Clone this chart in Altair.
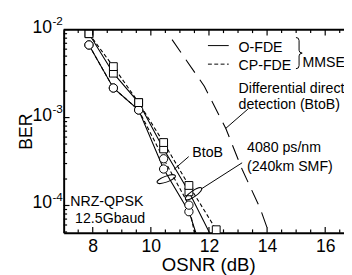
import altair as alt
import pandas as pd

FONT = "Liberation Sans"

# ---------------- data ----------------
osnr = [7.87, 8.71, 9.58, 10.44, 11.31]
ofde_btob = [6.7e-3, 2.17e-3, 1.22e-3, 2.6e-4, 8.5e-5]
cpfde_btob = [6.7e-3, 2.17e-3, 1.22e-3, 3.4e-4, 1.01e-4]
ofde_4080 = [9.0e-3, 3.2e-3, 1.48e-3, 4.4e-4, 1.43e-4]
cpfde_4080 = [9.0e-3, 3.8e-3, 1.48e-3, 5.2e-4, 1.69e-4]
# last points, at / below the bottom of the frame
ofde_btob_tail = (11.9, 2.2e-5)
cpfde_btob_tail = (11.6, 3.3e-5)
ofde_4080_tail = (12.4, 2.75e-5)
cpfde_4080_tail = (12.25, 5.3e-5)

ddd_osnr = [10.73, 11.84, 12.58, 13.14, 13.76, 14.1]
ddd_ber = [7.7e-3, 2.27e-3, 7.5e-4, 2.58e-4, 9.3e-5, 4.5e-5]

x_major = [8, 10, 12, 14, 16]
x_minor = [7.5, 8.5, 9, 9.5, 10.5, 11, 11.5, 12.5, 13, 13.5, 14.5, 15, 15.5, 16.5]
y_decades = [1e-2, 1e-3, 1e-4]
y_exponents = ["-2", "-3", "-4"]
y_minor = [9e-3, 8e-3, 7e-3, 6e-3, 5e-3, 4e-3, 3e-3, 2e-3,
           9e-4, 8e-4, 7e-4, 6e-4, 5e-4, 4e-4, 3e-4, 2e-4,
           9e-5, 8e-5, 7e-5, 6e-5, 5e-5]

X_DOMAIN = [7, 16.647]
Y_DOMAIN = [4.887e-5, 1e-2]
W, H = 287, 208

xscale = alt.Scale(domain=X_DOMAIN, nice=False, zero=False)
yscale = alt.Scale(type="log", domain=Y_DOMAIN, nice=False)

x_axis = alt.Axis(values=x_major, format="d", labelFont=FONT, labelFontSize=18,
                  labelColor="black", labelPadding=5, ticks=False, grid=False,
                  domainColor="black", domainWidth=2, labelFlush=False,
                  title="OSNR (dB)", titleFont=FONT, titleFontSize=19,
                  titleFontWeight="normal", titleColor="black", titleX=148,
                  titleY=39, titleAlign="center", titleBaseline="alphabetic")
y_axis = alt.Axis(labels=False, ticks=False, grid=False, domainColor="black",
                  domainWidth=2, title="BER", titleFont=FONT, titleFontSize=18,
                  titleFontWeight="normal", titleColor="black", titleAngle=270,
                  titleX=-33, titleY=104, titleAlign="center",
                  titleBaseline="alphabetic")


def X():
    return alt.X("osnr:Q", scale=xscale, axis=x_axis)


def Y():
    return alt.Y("ber:Q", scale=yscale, axis=y_axis)


def df(xs, ys):
    return pd.DataFrame({"osnr": list(xs), "ber": list(ys)})


def one():
    return pd.DataFrame({"a": [0]})


layers = []

# differential direct detection curve
layers.append(
    alt.Chart(df(ddd_osnr, ddd_ber)).mark_line(
        color="black", strokeWidth=1.1, strokeDash=[16, 9], clip=True
    ).encode(x=X(), y=Y())
)

series = [
    (osnr, ofde_btob, ofde_btob_tail, None, "circle"),
    (osnr, cpfde_btob, cpfde_btob_tail, [4, 2.5], "circle"),
    (osnr, ofde_4080, ofde_4080_tail, None, "square"),
    (osnr, cpfde_4080, cpfde_4080_tail, [4, 2.5], "square"),
]
for xs, ys, tail, dash, shape in series:
    d = df(list(xs) + [tail[0]], list(ys) + [tail[1]])
    kw = dict(color="black", strokeWidth=1.1, clip=True)
    if dash:
        kw["strokeDash"] = dash
    layers.append(alt.Chart(d).mark_line(**kw).encode(x=X(), y=Y()))
for xs, ys, tail, dash, shape in series:
    d = df(list(xs) + [tail[0]], list(ys) + [tail[1]])
    layers.append(
        alt.Chart(d).transform_filter(f"datum.ber >= {Y_DOMAIN[0]}").mark_point(
            shape=shape, filled=True, fill="white", stroke="black",
            strokeWidth=1, size=72 if shape == "circle" else 64, opacity=1
        ).encode(x=X(), y=Y())
    )

# frame top line
layers.append(alt.Chart(one()).mark_rule(color="black", strokeWidth=2).encode(
    x=alt.value(0), x2=alt.value(W), y=alt.value(0)))


# inward ticks
def xticks(vals, y0, y1):
    return alt.Chart(pd.DataFrame({"osnr": vals})).mark_rule(color="black", strokeWidth=1.2).encode(
        x=X(), y=alt.value(y0), y2=alt.value(y1))


layers += [xticks(x_major, H, H - 6), xticks(x_minor, H, H - 3.5),
           xticks(x_major, 0, 6), xticks(x_minor, 0, 3.5)]
layers.append(alt.Chart(pd.DataFrame({"ber": y_decades})).mark_rule(color="black", strokeWidth=1.2).encode(
    y=Y(), x=alt.value(0), x2=alt.value(6)))
layers.append(alt.Chart(pd.DataFrame({"ber": y_minor})).mark_rule(color="black", strokeWidth=1.2).encode(
    y=Y(), x=alt.value(0), x2=alt.value(3.5)))

# y tick labels 10^n
dec = pd.DataFrame({"ber": y_decades, "exp": y_exponents})
layers.append(alt.Chart(dec).mark_text(align="right", baseline="middle", font=FONT, fontSize=18,
                                       color="black", dy=-2, text="10").encode(
    y=Y(), x=alt.value(-12)))
layers.append(alt.Chart(dec).mark_text(align="left", baseline="middle", font=FONT, fontSize=12,
                                       color="black", dy=-8.5).encode(
    y=Y(), x=alt.value(-11.5), text="exp:N"))

# annotations
annotations = [
    ("O-FDE", 179, 23), ("CP-FDE", 179, 41), ("MMSE", 244.5, 38),
    ("Differential direct", 179, 65), ("detection (BtoB)", 179, 81.5),
    ("BtoB", 131.7, 130), ("4080 ps/nm", 187.7, 125), ("(240km SMF)", 187.7, 145),
    ("NRZ-QPSK", 6.7, 181), ("12.5Gbaud", 11.7, 198),
]
for t, px, py in annotations:
    layers.append(alt.Chart(pd.DataFrame({"t": [t]})).mark_text(
        align="left", baseline="alphabetic", font=FONT, fontSize=14.5, color="black").encode(
        x=alt.value(px), y=alt.value(py), text="t:N"))

segments = [
    (147.7, 16.3, 169, 16.3, None),      # legend solid
    (147.7, 35.3, 169, 35.3, [4, 2.5]),  # legend dashed
    (189, 81, 166, 101, None),           # differential leader
    (128, 130, 113, 143, None),          # BtoB leader
    (182.7, 136.3, 141, 163, None),      # 4080 leader
]
for x0, y0, x1, y1, dash in segments:
    kw = dict(color="black", strokeWidth=1)
    if dash:
        kw["strokeDash"] = dash
    layers.append(alt.Chart(one()).mark_rule(**kw).encode(
        x=alt.value(x0), y=alt.value(y0), x2=alt.value(x1), y2=alt.value(y1)))

ELLIPSE = "M -1 0 A 1 0.3 0 1 1 1 0 A 1 0.3 0 1 1 -1 0 Z"
BRACE = "M -0.2 -1 Q 0 -1 0 -0.8 L 0 -0.18 Q 0 -0.02 0.2 0 Q 0 0.02 0 0.18 L 0 0.8 Q 0 1 -0.2 1"
shapes = [
    (ELLIPSE, 105, 153, 400, 340),
    (ELLIPSE, 133, 168, 400, 325),
    (BRACE, 241, 24, 1024, 0),
]
for path, px, py, size, ang in shapes:
    layers.append(alt.Chart(one()).mark_point(
        shape=path, filled=False, stroke="black", strokeWidth=1, size=size,
        angle=ang, opacity=1).encode(x=alt.value(px), y=alt.value(py)))

chart = alt.layer(*layers).properties(
    width=W, height=H,
    padding={"left": 57, "top": 19, "right": 0, "bottom": 40},
    autosize=alt.AutoSizeParams(type="none"),
    background="white",
).configure_view(stroke=None)

chart.save("out.html", embed_options={"renderer": "svg", "actions": False})
